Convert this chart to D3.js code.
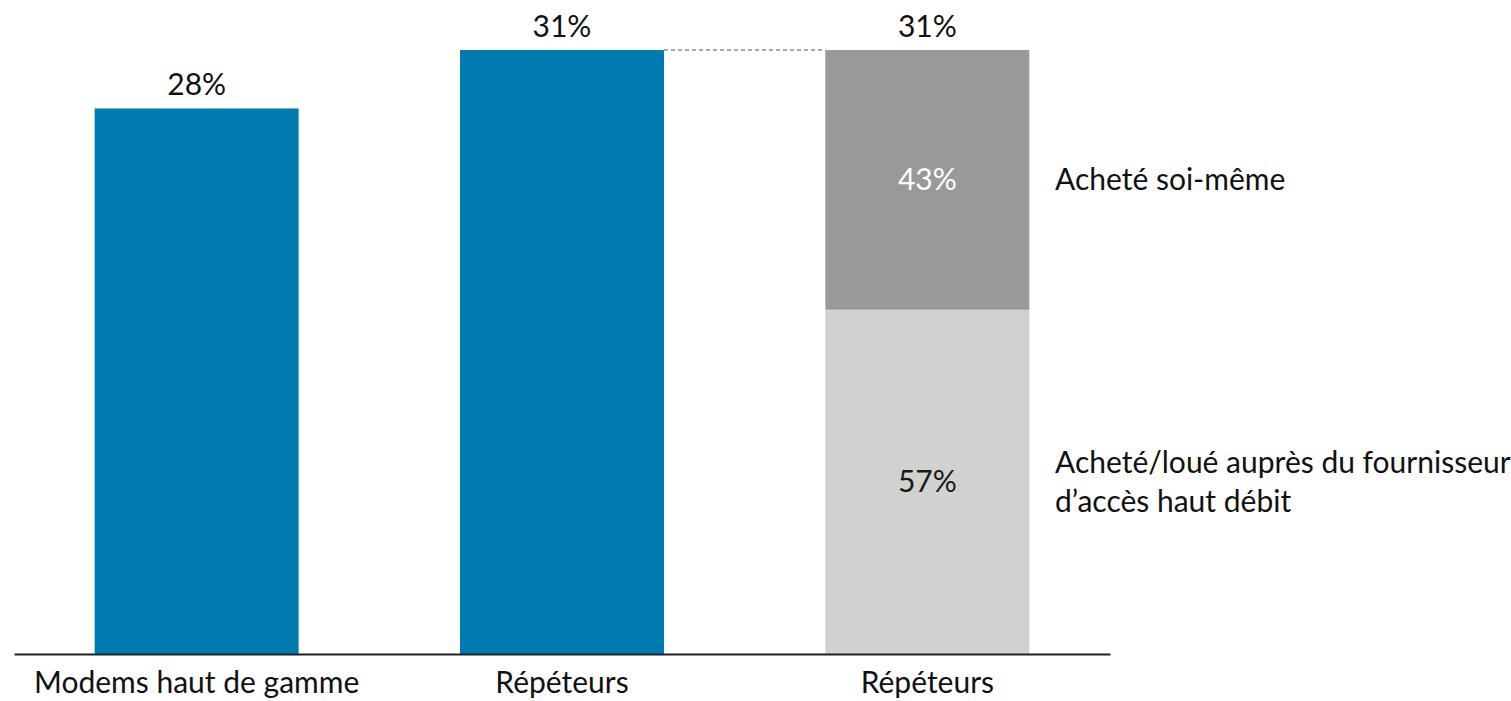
<!DOCTYPE html>
<html>
<head>
<meta charset="utf-8">
<script src="https://cdn.jsdelivr.net/npm/d3@7"></script>
<style>
  html, body { margin: 0; padding: 0; background: #fff; }
  svg { display: block; font-family: Lato, "Open Sans", sans-serif; }
</style>
</head>
<body>
<svg id="chart" width="1511" height="701"></svg>
<script>
// Categories along the x axis
const categories = ["Modems haut de gamme", "Répéteurs", "Répéteurs (détail)"];
const categoryLabels = ["Modems haut de gamme", "Répéteurs", "Répéteurs"];
// Share of households owning each device (%)
const totals = [28, 31, 31];
// Breakdown of the repeater bar (share of repeater owners, %)
const breakdownKeys = ["loue", "soi"];
const breakdownValues = { loue: 57, soi: 43 };
const breakdownLabels = { soi: ["Acheté soi-même"], loue: ["Acheté/loué auprès du fournisseur", "d’accès haut débit"] };

const colors = { blue: "#007bb1", soi: "#98999b", loue: "#d1d1cf" };

const svg = d3.select("#chart");
const left = 14, right = 1110, baseY = 654, topY = 50;

const x = d3.scaleBand()
  .domain(categories)
  .range([left, right])
  .paddingInner(0.4416)
  .paddingOuter(0.2208);

const y = d3.scaleLinear()
  .domain([0, d3.max(totals)])
  .range([baseY, topY]);

const fs = 30;

// Plain bars
const simple = categories.slice(0, 2).map((c, i) => ({ c, v: totals[i] }));
svg.selectAll("rect.bar")
  .data(simple)
  .join("rect")
  .attr("class", "bar")
  .attr("x", d => x(d.c))
  .attr("width", x.bandwidth())
  .attr("y", d => y(d.v))
  .attr("height", d => y(0) - y(d.v))
  .attr("fill", colors.blue);

// Stacked breakdown bar, scaled to the total of the third category
const stackTotal = totals[2];
const stack = d3.stack().keys(breakdownKeys)([breakdownValues]);
const sx = x(categories[2]);
const segs = stack.map(s => ({
  key: s.key,
  v: breakdownValues[s.key],
  y0: s[0][0] / 100 * stackTotal,
  y1: s[0][1] / 100 * stackTotal
}));

svg.selectAll("rect.seg")
  .data(segs)
  .join("rect")
  .attr("class", "seg")
  .attr("x", sx)
  .attr("width", x.bandwidth())
  .attr("y", d => y(d.y1))
  .attr("height", d => y(d.y0) - y(d.y1))
  .attr("fill", d => colors[d.key]);

// Segment value labels
svg.selectAll("text.seglabel")
  .data(segs)
  .join("text")
  .attr("class", "seglabel")
  .attr("x", sx + x.bandwidth() / 2)
  .attr("y", d => (y(d.y0) + y(d.y1)) / 2)
  .attr("dy", "0.35em")
  .attr("text-anchor", "middle")
  .attr("font-size", fs)
  .attr("fill", d => d.key === "soi" ? "#fff" : "#1a1a1a")
  .text(d => d.v + "%");

// Legend-style labels on the right of the stacked bar
segs.forEach(d => {
  const lines = breakdownLabels[d.key];
  const cy = (y(d.y0) + y(d.y1)) / 2;
  const lh = 39;
  const t = svg.append("text")
    .attr("x", 1055)
    .attr("font-size", fs)
    .attr("fill", "#111");
  lines.forEach((ln, i) => {
    t.append("tspan")
      .attr("x", 1055)
      .attr("y", cy + (i - (lines.length - 1) / 2) * lh)
      .attr("dy", "0.35em")
      .text(ln);
  });
});

// Dashed connector between the two repeater bars
svg.append("line")
  .attr("x1", x(categories[1]) + x.bandwidth())
  .attr("x2", sx)
  .attr("y1", y(totals[1]))
  .attr("y2", y(totals[2]))
  .attr("stroke", "#8a8a8a")
  .attr("stroke-width", 1.5)
  .attr("stroke-dasharray", "4,3");

// Total labels above bars
svg.selectAll("text.total")
  .data(categories.map((c, i) => ({ c, v: totals[i] })))
  .join("text")
  .attr("class", "total")
  .attr("x", d => x(d.c) + x.bandwidth() / 2)
  .attr("y", d => y(d.v) - 13)
  .attr("text-anchor", "middle")
  .attr("font-size", fs)
  .attr("fill", "#111")
  .text(d => d.v + "%");

// Baseline axis with category labels
const axis = d3.axisBottom(x).tickSize(0).tickPadding(0).tickFormat((d, i) => categoryLabels[i]);
const g = svg.append("g").attr("transform", `translate(0,${baseY})`).call(axis);
g.select(".domain").attr("stroke", "#222").attr("stroke-width", 2);
g.selectAll(".tick text")
  .attr("font-size", fs)
  .attr("font-family", "Lato, 'Open Sans', sans-serif")
  .attr("fill", "#111")
  .attr("dy", 0)
  .attr("y", 39);
</script>
</body>
</html>
